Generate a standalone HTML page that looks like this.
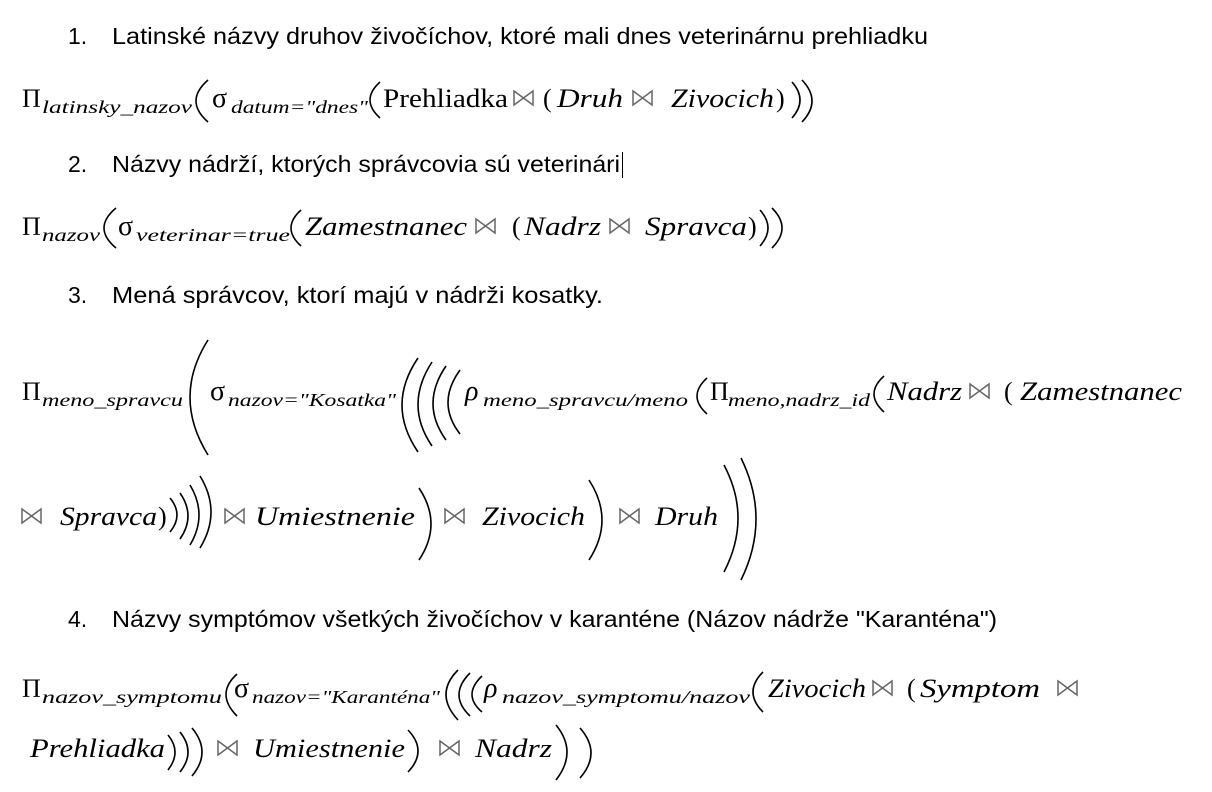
<!DOCTYPE html>
<html><head><meta charset="utf-8"><style>
html,body{margin:0;padding:0;background:#fff}
svg{display:block}
.h{font-family:"Liberation Sans",sans-serif;font-size:23px;fill:#000}
.m{font-family:"Liberation Serif",serif;font-size:26px;font-style:italic;fill:#000}
.n{font-family:"Liberation Serif",serif;font-size:26px;fill:#000}
.g{font-family:"Liberation Serif",serif;font-size:28px;fill:#000}
.s{font-family:"Liberation Serif",serif;font-size:18px;font-style:italic;fill:#000}
.p{fill:none;stroke:#000;stroke-width:1.6}
.b{fill:none;stroke:#666;stroke-width:1.5}
</style></head><body>
<svg width="1212" height="792" viewBox="0 0 1212 792" xmlns="http://www.w3.org/2000/svg">
<text class="h" x="68" y="44">1.</text>
<text class="h" x="112" y="44" textLength="816" lengthAdjust="spacingAndGlyphs">Latinské názvy druhov živočíchov, ktoré mali dnes veterinárnu prehliadku</text>
<text class="n" x="22" y="107">Π</text>
<text class="s" x="42" y="113" textLength="150" lengthAdjust="spacingAndGlyphs">latinsky_nazov</text>
<path class="p" d="M208 80 Q184 101 208 122"/>
<text class="g" x="212" y="107">σ</text>
<text class="s" x="231" y="113" textLength="137" lengthAdjust="spacingAndGlyphs">datum="dnes"</text>
<path class="p" d="M380 82 Q360 100 380 118"/>
<text class="n" x="383" y="107" textLength="125" lengthAdjust="spacingAndGlyphs">Prehliadka</text>
<path class="b" d="M514 91 L514 105 L533 91 L533 105 Z"/>
<text class="n" x="543" y="107">(</text>
<text class="m" x="557" y="107" textLength="66" lengthAdjust="spacingAndGlyphs">Druh</text>
<path class="b" d="M633 91 L633 105 L652 91 L652 105 Z"/>
<text class="m" x="671" y="107" textLength="103" lengthAdjust="spacingAndGlyphs">Zivocich</text>
<text class="n" x="776" y="107">)</text>
<path class="p" d="M792 82 Q808 100 792 118"/>
<path class="p" d="M802 80 Q822 101 802 122"/>
<text class="h" x="68" y="172">2.</text>
<text class="h" x="112" y="172" textLength="508" lengthAdjust="spacingAndGlyphs">Názvy nádrží, ktorých správcovia sú veterinári</text>
<line x1="622.5" y1="152" x2="622.5" y2="178" stroke="#000" stroke-width="1"/>
<text class="n" x="22" y="235">Π</text>
<text class="s" x="42" y="241" textLength="58" lengthAdjust="spacingAndGlyphs">nazov</text>
<path class="p" d="M116 208 Q92 228 116 248"/>
<text class="g" x="118" y="235">σ</text>
<text class="s" x="136" y="241" textLength="154" lengthAdjust="spacingAndGlyphs">veterinar=true</text>
<path class="p" d="M301 210 Q281 228 301 246"/>
<text class="m" x="305" y="235" textLength="162" lengthAdjust="spacingAndGlyphs">Zamestnanec</text>
<path class="b" d="M476 219 L476 233 L495 219 L495 233 Z"/>
<text class="n" x="512" y="235">(</text>
<text class="m" x="524" y="235" textLength="77" lengthAdjust="spacingAndGlyphs">Nadrz</text>
<path class="b" d="M610 219 L610 233 L629 219 L629 233 Z"/>
<text class="m" x="645" y="235" textLength="102" lengthAdjust="spacingAndGlyphs">Spravca</text>
<text class="n" x="748" y="235">)</text>
<path class="p" d="M760 210 Q776 228 760 246"/>
<path class="p" d="M772 208 Q792 228 772 248"/>
<text class="h" x="68" y="303">3.</text>
<text class="h" x="112" y="303" textLength="491" lengthAdjust="spacingAndGlyphs">Mená správcov, ktorí majú v nádrži kosatky.</text>
<text class="n" x="22" y="400">Π</text>
<text class="s" x="42" y="406" textLength="141" lengthAdjust="spacingAndGlyphs">meno_spravcu</text>
<path class="p" d="M208 340 Q172 397 208 455"/>
<text class="g" x="210" y="400">σ</text>
<text class="s" x="228" y="406" textLength="168" lengthAdjust="spacingAndGlyphs">nazov="Kosatka"</text>
<path class="p" d="M418 358 Q386 405 418 452"/>
<path class="p" d="M432 362 Q404 405 432 446"/>
<path class="p" d="M446 366 Q420 404 446 440"/>
<path class="p" d="M460 370 Q436 403 460 434"/>
<text class="g" x="465" y="400" font-style="italic">ρ</text>
<text class="s" x="483" y="406" textLength="205" lengthAdjust="spacingAndGlyphs">meno_spravcu/meno</text>
<path class="p" d="M707 378 Q687 396 707 414"/>
<text class="n" x="710" y="400">Π</text>
<text class="s" x="728" y="406" textLength="142" lengthAdjust="spacingAndGlyphs">meno,nadrz_id</text>
<path class="p" d="M884 376 Q864 394 884 412"/>
<text class="m" x="887" y="400" textLength="75" lengthAdjust="spacingAndGlyphs">Nadrz</text>
<path class="b" d="M970 384 L970 398 L989 384 L989 398 Z"/>
<text class="n" x="1004" y="400">(</text>
<text class="m" x="1020" y="400" textLength="162" lengthAdjust="spacingAndGlyphs">Zamestnanec</text>
<path class="b" d="M22 509 L22 523 L41 509 L41 523 Z"/>
<text class="m" x="60" y="525" textLength="97" lengthAdjust="spacingAndGlyphs">Spravca</text>
<text class="n" x="158" y="525">)</text>
<path class="p" d="M170 498 Q184 515 170 532"/>
<path class="p" d="M180 493 Q196 516 180 539"/>
<path class="p" d="M190 485 Q208 515 190 545"/>
<path class="p" d="M200 476 Q222 512 200 548"/>
<path class="b" d="M225 509 L225 523 L244 509 L244 523 Z"/>
<text class="m" x="255" y="525" textLength="160" lengthAdjust="spacingAndGlyphs">Umiestnenie</text>
<path class="p" d="M419 488 Q443 524 419 560"/>
<path class="b" d="M445 509 L445 523 L464 509 L464 523 Z"/>
<text class="m" x="482" y="525" textLength="103" lengthAdjust="spacingAndGlyphs">Zivocich</text>
<path class="p" d="M589 480 Q615 520 589 560"/>
<path class="b" d="M620 509 L620 523 L639 509 L639 523 Z"/>
<text class="m" x="655" y="525" textLength="63" lengthAdjust="spacingAndGlyphs">Druh</text>
<path class="p" d="M724 465 Q752 518 724 572"/>
<path class="p" d="M741 458 Q771 519 741 580"/>
<text class="h" x="68" y="627">4.</text>
<text class="h" x="112" y="627" textLength="885" lengthAdjust="spacingAndGlyphs">Názvy symptómov všetkých živočíchov v karanténe (Názov nádrže "Karanténa")</text>
<text class="n" x="22" y="697">Π</text>
<text class="s" x="42" y="703" textLength="180" lengthAdjust="spacingAndGlyphs">nazov_symptomu</text>
<path class="p" d="M237 674 Q215 694 237 716"/>
<text class="g" x="234" y="697">σ</text>
<text class="s" x="252" y="703" textLength="188" lengthAdjust="spacingAndGlyphs">nazov="Karanténa"</text>
<path class="p" d="M458 670 Q434 694 458 720"/>
<path class="p" d="M470 673 Q448 695 470 716"/>
<path class="p" d="M482 676 Q462 695 482 712"/>
<text class="g" x="484" y="697" font-style="italic">ρ</text>
<text class="s" x="502" y="703" textLength="248" lengthAdjust="spacingAndGlyphs">nazov_symptomu/nazov</text>
<path class="p" d="M763 672 Q743 692 763 712"/>
<text class="m" x="768" y="697" textLength="98" lengthAdjust="spacingAndGlyphs">Zivocich</text>
<path class="b" d="M873 681 L873 695 L892 681 L892 695 Z"/>
<text class="n" x="907" y="697">(</text>
<text class="m" x="920" y="697" textLength="120" lengthAdjust="spacingAndGlyphs">Symptom</text>
<path class="b" d="M1058 681 L1058 695 L1077 681 L1077 695 Z"/>
<text class="m" x="30" y="757" textLength="135" lengthAdjust="spacingAndGlyphs">Prehliadka</text>
<path class="p" d="M168 735 Q182 752 168 770"/>
<path class="p" d="M180 732 Q196 752 180 772"/>
<path class="p" d="M192 728 Q212 752 192 776"/>
<path class="b" d="M218 741 L218 755 L237 741 L237 755 Z"/>
<text class="m" x="253" y="757" textLength="152" lengthAdjust="spacingAndGlyphs">Umiestnenie</text>
<path class="p" d="M408 730 Q428 751 408 772"/>
<path class="b" d="M440 741 L440 755 L459 741 L459 755 Z"/>
<text class="m" x="475" y="757" textLength="77" lengthAdjust="spacingAndGlyphs">Nadrz</text>
<path class="p" d="M556 725 Q578 752 556 780"/>
<path class="p" d="M580 728 Q602 753 580 778"/>
</svg>
</body></html>
